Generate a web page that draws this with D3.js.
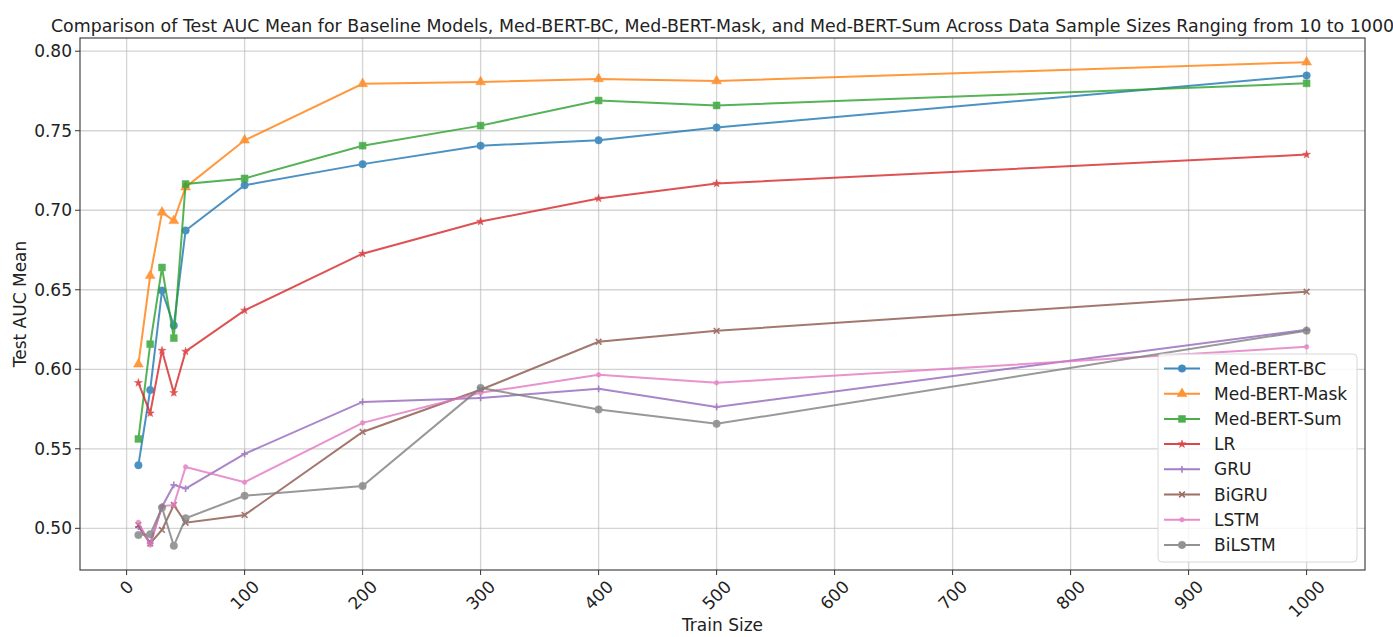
<!DOCTYPE html>
<html>
<head>
<meta charset="utf-8">
<script src="https://cdn.jsdelivr.net/npm/d3@7"></script>
<style>
  body { margin: 0; background: #fff; }
  svg { display: block; font-family: "DejaVu Sans", sans-serif; }
</style>
</head>
<body>
<svg id="chart" width="1393" height="637"></svg>
<script>
const trainSizes = [10, 20, 30, 40, 50, 100, 200, 300, 400, 500, 1000];
const seriesNames = ["Med-BERT-BC", "Med-BERT-Mask", "Med-BERT-Sum", "LR", "GRU", "BiGRU", "LSTM", "BiLSTM"];
const medBertBC   = [0.5397, 0.5870, 0.6495, 0.6275, 0.6873, 0.7157, 0.7290, 0.7406, 0.7440, 0.7520, 0.7847];
const medBertMask = [0.6032, 0.6588, 0.6987, 0.6934, 0.7145, 0.7440, 0.7795, 0.7807, 0.7826, 0.7813, 0.7931];
const medBertSum  = [0.5562, 0.6158, 0.6640, 0.6196, 0.7165, 0.7200, 0.7406, 0.7532, 0.7690, 0.7659, 0.7798];
const lr          = [0.5915, 0.5724, 0.6118, 0.5852, 0.6112, 0.6370, 0.6727, 0.6929, 0.7074, 0.7168, 0.7350];
const gru         = [0.5010, 0.4907, 0.5136, 0.5273, 0.5250, 0.5468, 0.5795, 0.5820, 0.5877, 0.5763, 0.6248];
const bigru       = [0.5020, 0.4906, 0.4990, 0.5147, 0.5035, 0.5084, 0.5606, 0.5871, 0.6173, 0.6242, 0.6488];
const lstm        = [0.5038, 0.4895, 0.5140, 0.5147, 0.5386, 0.5290, 0.5663, 0.5852, 0.5965, 0.5915, 0.6141];
const bilstm      = [0.4958, 0.4962, 0.5130, 0.4890, 0.5063, 0.5205, 0.5266, 0.5883, 0.5747, 0.5657, 0.6243];
const xTicks = [0, 100, 200, 300, 400, 500, 600, 700, 800, 900, 1000];
const yTicks = [0.50, 0.55, 0.60, 0.65, 0.70, 0.75, 0.80];
const titleText = "Comparison of Test AUC Mean for Baseline Models, Med-BERT-BC, Med-BERT-Mask, and Med-BERT-Sum Across Data Sample Sizes Ranging from 10 to 1000";
const xLabel = "Train Size";
const yLabel = "Test AUC Mean";

const allValues = [medBertBC, medBertMask, medBertSum, lr, gru, bigru, lstm, bilstm];
const colors = ["#1f77b4", "#ff7f0e", "#2ca02c", "#d62728", "#9467bd", "#8c564b", "#e377c2", "#7f7f7f"];
const markers = ["circle", "triangle", "square", "star", "plus", "x", "point", "circle"];

const svg = d3.select("#chart");
const L = 80, R = 1365, T = 38, B = 570;
const fs = 17;

const xMin = d3.min(trainSizes), xMax = d3.max(trainSizes);
const xPad = (xMax - xMin) * 0.05;
const x = d3.scaleLinear().domain([xMin - xPad, xMax + xPad]).range([L, R]);
const vMin = d3.min(allValues.flat()), vMax = d3.max(allValues.flat());
const yPad = (vMax - vMin) * 0.05;
const y = d3.scaleLinear().domain([vMin - yPad, vMax + yPad]).range([B, T]);

// grid
const grid = svg.append("g");
xTicks.forEach(t => grid.append("line").attr("x1", x(t)).attr("x2", x(t)).attr("y1", T).attr("y2", B)
  .attr("stroke", "#b0b0b0").attr("stroke-opacity", 0.55).attr("stroke-width", 1.3));
yTicks.forEach(t => grid.append("line").attr("x1", L).attr("x2", R).attr("y1", y(t)).attr("y2", y(t))
  .attr("stroke", "#b0b0b0").attr("stroke-opacity", 0.55).attr("stroke-width", 1.3));

function markerPath(type, s) {
  switch (type) {
    case "circle": return d3.symbol(d3.symbolCircle, s * s * Math.PI / 4)();
    case "triangle": return d3.symbol(d3.symbolTriangle, s * s * 0.75)();
    case "square": return d3.symbol(d3.symbolSquare, s * s * 0.85)();
    case "star": return d3.symbol(d3.symbolStar, s * s * 0.35)();
    case "point": return d3.symbol(d3.symbolCircle, s * s * 0.3)();
    case "plus": { const h = s * 0.45; return `M${-h},0H${h}M0,${-h}V${h}`; }
    case "x": { const h = s * 0.38; return `M${-h},${-h}L${h},${h}M${-h},${h}L${h},${-h}`; }
  }
}
const strokeOnly = t => t === "plus" || t === "x";

const lineGen = d3.line().x(d => x(d[0])).y(d => y(d[1]));
const plot = svg.append("g");
allValues.forEach((vals, i) => {
  const pts = trainSizes.map((t, j) => [t, vals[j]]);
  const g = plot.append("g").attr("opacity", 0.8);
  g.append("path").datum(pts).attr("d", lineGen).attr("fill", "none")
    .attr("stroke", colors[i]).attr("stroke-width", 2);
  g.selectAll("path.m").data(pts).enter().append("path").attr("class", "m")
    .attr("transform", d => `translate(${x(d[0])},${y(d[1])})`)
    .attr("d", markerPath(markers[i], 7.5))
    .attr("fill", strokeOnly(markers[i]) ? "none" : colors[i])
    .attr("stroke", colors[i]).attr("stroke-width", strokeOnly(markers[i]) ? 1.6 : 0.5);
});

// frame
svg.append("rect").attr("x", L).attr("y", T).attr("width", R - L).attr("height", B - T)
  .attr("fill", "none").attr("stroke", "#333").attr("stroke-width", 1.1);

// y ticks
yTicks.forEach(t => {
  svg.append("line").attr("x1", L - 5).attr("x2", L).attr("y1", y(t)).attr("y2", y(t)).attr("stroke", "#333");
  svg.append("text").attr("x", L - 8).attr("y", y(t)).attr("dy", "0.36em").attr("text-anchor", "end")
    .attr("font-size", fs).attr("fill", "#222").text(d3.format(".2f")(t));
});
// x ticks (rotated 45, bbox centered on tick)
xTicks.forEach(t => {
  svg.append("line").attr("x1", x(t)).attr("x2", x(t)).attr("y1", B).attr("y2", B + 5).attr("stroke", "#333");
  const txt = svg.append("text").attr("font-size", fs).attr("fill", "#222")
    .attr("text-anchor", "middle").attr("dy", "0.36em").text(t);
  const w = txt.node().getComputedTextLength();
  const h = fs * 0.75;
  const bh = (w + h) / Math.SQRT2;
  txt.attr("transform", `translate(${x(t)},${B + 9 + bh / 2}) rotate(-45)`);
});

// labels
svg.append("text").attr("x", (L + R) / 2).attr("y", 631).attr("text-anchor", "middle")
  .attr("font-size", fs).attr("fill", "#222").text(xLabel);
svg.append("text").attr("transform", `translate(26,${(T + B) / 2}) rotate(-90)`).attr("text-anchor", "middle")
  .attr("font-size", fs).attr("fill", "#222").text(yLabel);
svg.append("text").attr("x", (L + R) / 2).attr("y", 32).attr("text-anchor", "middle")
  .attr("font-size", 17.4).attr("fill", "#222").text(titleText);

// legend
const lg = svg.append("g");
lg.append("rect").attr("x", 1158).attr("y", 354).attr("width", 199).attr("height", 208).attr("rx", 4)
  .attr("fill", "#fff").attr("fill-opacity", 0.8).attr("stroke", "#d8d8d8");
seriesNames.forEach((n, i) => {
  const yy = 368.5 + i * 25.2;
  const g = lg.append("g").attr("opacity", 0.85);
  g.append("line").attr("x1", 1164).attr("x2", 1200).attr("y1", yy).attr("y2", yy)
    .attr("stroke", colors[i]).attr("stroke-width", 2);
  g.append("path").attr("transform", `translate(1182,${yy})`).attr("d", markerPath(markers[i], 7.5))
    .attr("fill", strokeOnly(markers[i]) ? "none" : colors[i])
    .attr("stroke", colors[i]).attr("stroke-width", strokeOnly(markers[i]) ? 1.6 : 0.5);
  lg.append("text").attr("x", 1214).attr("y", yy).attr("dy", "0.36em").attr("font-size", fs)
    .attr("fill", "#222").text(n);
});
</script>
</body>
</html>
